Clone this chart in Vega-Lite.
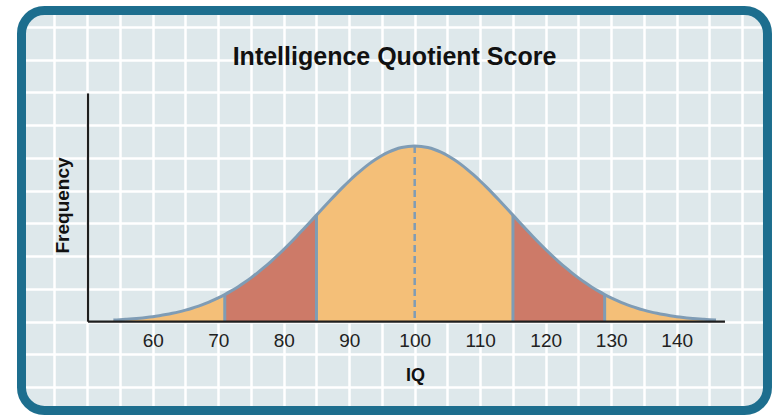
{
  "$schema": "https://vega.github.io/schema/vega-lite/v6.json",
  "width": 755,
  "height": 409,
  "autosize": {"type": "none"},
  "padding": {"left": 17, "top": 6, "right": 0, "bottom": 3},
  "background": "white",
  "config": {
    "view": {"fill": "#dee8eb", "stroke": null, "cornerRadius": 27},
    "font": "Liberation Sans",
    "title": {"font": "Liberation Sans", "fontSize": 25, "fontWeight": "bold", "color": "#111111"},
    "axis": {"labelFont": "Liberation Sans", "titleFont": "Liberation Sans", "titleFontWeight": "bold", "titleColor": "#111111", "labelColor": "#222222"}
  },
  "title": {"text": "Intelligence Quotient Score", "anchor": "middle", "frame": "group", "offset": 0, "baseline": "alphabetic", "dy": 84},
  "datasets": {
    "curve": [
      {"iq": 54, "f": 0.049}, {"iq": 55, "f": 0.060}, {"iq": 56, "f": 0.073}, {"iq": 57, "f": 0.088},
      {"iq": 58, "f": 0.106}, {"iq": 59, "f": 0.128}, {"iq": 60, "f": 0.153}, {"iq": 61, "f": 0.183},
      {"iq": 62, "f": 0.217}, {"iq": 63, "f": 0.256}, {"iq": 64, "f": 0.301}, {"iq": 65, "f": 0.353},
      {"iq": 66, "f": 0.411}, {"iq": 67, "f": 0.477}, {"iq": 68, "f": 0.551}, {"iq": 69, "f": 0.634},
      {"iq": 70, "f": 0.726}, {"iq": 71, "f": 0.828}, {"iq": 72, "f": 0.940}, {"iq": 73, "f": 1.062},
      {"iq": 74, "f": 1.194}, {"iq": 75, "f": 1.338}, {"iq": 76, "f": 1.492}, {"iq": 77, "f": 1.656},
      {"iq": 78, "f": 1.830}, {"iq": 79, "f": 2.014}, {"iq": 80, "f": 2.206}, {"iq": 81, "f": 2.405},
      {"iq": 82, "f": 2.611}, {"iq": 83, "f": 2.823}, {"iq": 84, "f": 3.037}, {"iq": 85, "f": 3.254},
      {"iq": 86, "f": 3.471}, {"iq": 87, "f": 3.685}, {"iq": 88, "f": 3.896}, {"iq": 89, "f": 4.100},
      {"iq": 90, "f": 4.296}, {"iq": 91, "f": 4.481}, {"iq": 92, "f": 4.654}, {"iq": 93, "f": 4.812},
      {"iq": 94, "f": 4.953}, {"iq": 95, "f": 5.075}, {"iq": 96, "f": 5.178}, {"iq": 97, "f": 5.259},
      {"iq": 98, "f": 5.318}, {"iq": 99, "f": 5.353}, {"iq": 100, "f": 5.365}, {"iq": 101, "f": 5.353},
      {"iq": 102, "f": 5.318}, {"iq": 103, "f": 5.259}, {"iq": 104, "f": 5.178}, {"iq": 105, "f": 5.075},
      {"iq": 106, "f": 4.953}, {"iq": 107, "f": 4.812}, {"iq": 108, "f": 4.654}, {"iq": 109, "f": 4.481},
      {"iq": 110, "f": 4.296}, {"iq": 111, "f": 4.100}, {"iq": 112, "f": 3.896}, {"iq": 113, "f": 3.685},
      {"iq": 114, "f": 3.471}, {"iq": 115, "f": 3.254}, {"iq": 116, "f": 3.037}, {"iq": 117, "f": 2.823},
      {"iq": 118, "f": 2.611}, {"iq": 119, "f": 2.405}, {"iq": 120, "f": 2.206}, {"iq": 121, "f": 2.014},
      {"iq": 122, "f": 1.830}, {"iq": 123, "f": 1.656}, {"iq": 124, "f": 1.492}, {"iq": 125, "f": 1.338},
      {"iq": 126, "f": 1.194}, {"iq": 127, "f": 1.062}, {"iq": 128, "f": 0.940}, {"iq": 129, "f": 0.828},
      {"iq": 130, "f": 0.726}, {"iq": 131, "f": 0.634}, {"iq": 132, "f": 0.551}, {"iq": 133, "f": 0.477},
      {"iq": 134, "f": 0.411}, {"iq": 135, "f": 0.353}, {"iq": 136, "f": 0.301}, {"iq": 137, "f": 0.256},
      {"iq": 138, "f": 0.217}, {"iq": 139, "f": 0.183}, {"iq": 140, "f": 0.153}, {"iq": 141, "f": 0.128},
      {"iq": 142, "f": 0.106}, {"iq": 143, "f": 0.088}, {"iq": 144, "f": 0.073}, {"iq": 145, "f": 0.060},
      {"iq": 146, "f": 0.049}
    ],
    "cuts": [
      {"iq": 71, "f": 0.828}, {"iq": 85, "f": 3.254}, {"iq": 115, "f": 3.254}, {"iq": 129, "f": 0.828}
    ],
    "center": [{"iq": 100, "f": 5.365}]
  },
  "layer": [
    {
      "data": {"name": "curve"},
      "mark": {"type": "area", "color": "#f4bf78", "interpolate": "monotone"},
      "encoding": {
        "x": {
          "field": "iq", "type": "quantitative",
          "scale": {"domain": [39.282, 154.55], "nice": false, "zero": false},
          "axis": {
            "values": [40, 45, 50, 55, 60, 65, 70, 75, 80, 85, 90, 95, 100, 105, 110, 115, 120, 125, 130, 135, 140, 145, 150],
            "tickCount": 60,
            "labelExpr": "datum.value >= 60 && datum.value <= 140 && datum.value % 10 === 0 ? datum.label : ''",
            "grid": true, "gridColor": "#ffffff", "gridWidth": 2.5, "gridOpacity": 1,
            "ticks": false, "domain": false, "offset": -93.3,
            "labelBaseline": "alphabetic", "labelPadding": 25, "labelFontSize": 19,
            "labelFlush": false, "labelOverlap": false,
            "title": "IQ", "titleFontSize": 18, "titleX": 398, "titleY": 59,
            "titleAlign": "center", "titleBaseline": "alphabetic"
          }
        },
        "y": {
          "field": "f", "type": "quantitative",
          "scale": {"domain": [-2.849, 9.64], "nice": false, "zero": false},
          "axis": {
            "values": [-2, -1, 0, 1, 2, 3, 4, 5, 6, 7, 8, 9],
            "tickCount": 40,
            "grid": true, "gridColor": "#ffffff", "gridWidth": 2.5, "gridOpacity": 1,
            "labels": false, "ticks": false, "domain": false,
            "title": "Frequency", "titleFontSize": 19, "titleAngle": -90,
            "titleX": 51, "titleY": 199, "titleAlign": "center", "titleBaseline": "alphabetic"
          }
        },
        "y2": {"datum": 0}
      }
    },
    {
      "data": {"name": "curve"},
      "transform": [{"filter": {"field": "iq", "range": [71, 85]}}],
      "mark": {"type": "area", "color": "#cd7a68", "interpolate": "monotone"},
      "encoding": {
        "x": {"field": "iq", "type": "quantitative"},
        "y": {"field": "f", "type": "quantitative"},
        "y2": {"datum": 0}
      }
    },
    {
      "data": {"name": "curve"},
      "transform": [{"filter": {"field": "iq", "range": [115, 129]}}],
      "mark": {"type": "area", "color": "#cd7a68", "interpolate": "monotone"},
      "encoding": {
        "x": {"field": "iq", "type": "quantitative"},
        "y": {"field": "f", "type": "quantitative"},
        "y2": {"datum": 0}
      }
    },
    {
      "data": {"name": "cuts"},
      "mark": {"type": "rule", "color": "#7f9cb5", "strokeWidth": 3},
      "encoding": {
        "x": {"field": "iq", "type": "quantitative"},
        "y": {"field": "f", "type": "quantitative"},
        "y2": {"datum": 0}
      }
    },
    {
      "data": {"name": "center"},
      "mark": {"type": "rule", "color": "#7f9cb5", "strokeWidth": 2.5, "strokeDash": [7, 4]},
      "encoding": {
        "x": {"field": "iq", "type": "quantitative"},
        "y": {"field": "f", "type": "quantitative"},
        "y2": {"datum": 0}
      }
    },
    {
      "data": {"name": "curve"},
      "mark": {"type": "line", "color": "#7f9cb5", "strokeWidth": 3, "interpolate": "monotone"},
      "encoding": {
        "x": {"field": "iq", "type": "quantitative"},
        "y": {"field": "f", "type": "quantitative"}
      }
    },
    {
      "data": {"values": [{}]},
      "mark": {"type": "rule", "color": "#1e1e1e", "strokeWidth": 2.2},
      "encoding": {
        "x": {"datum": 50.12, "type": "quantitative"},
        "x2": {"datum": 147.37},
        "y": {"datum": 0, "type": "quantitative"}
      }
    },
    {
      "data": {"values": [{}]},
      "mark": {"type": "rule", "color": "#1e1e1e", "strokeWidth": 2.2},
      "encoding": {
        "x": {"datum": 50.12, "type": "quantitative"},
        "y": {"datum": 6.97, "type": "quantitative"},
        "y2": {"datum": 0}
      }
    },
    {
      "data": {"values": [{}]},
      "mark": {"type": "rect", "fill": "transparent", "stroke": "#1d6e8e", "strokeWidth": 9, "cornerRadius": 23},
      "encoding": {
        "x": {"datum": 39.97, "type": "quantitative"},
        "x2": {"datum": 153.86},
        "y": {"datum": 9.502, "type": "quantitative"},
        "y2": {"datum": -2.711}
      }
    }
  ]
}
